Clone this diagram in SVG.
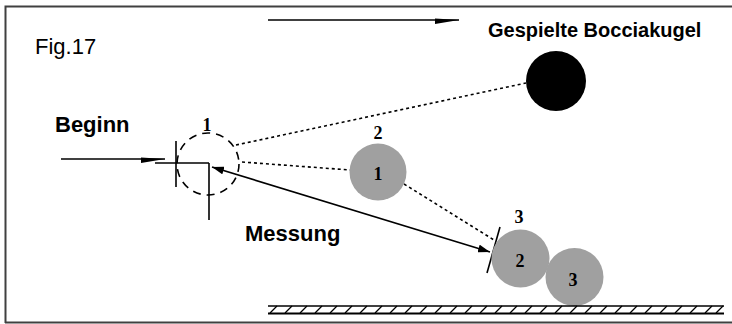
<svg xmlns="http://www.w3.org/2000/svg" width="732" height="324" viewBox="0 0 732 324">
<defs>
<style>
.lbl{font-family:"Liberation Sans",Arial,sans-serif;font-weight:bold;fill:#000}
.num{font-family:"Liberation Serif","Times New Roman",serif;font-weight:bold;font-size:18px;fill:#000;text-anchor:middle}
.ln{stroke:#000;stroke-width:1.6;fill:none}
.dot{stroke:#000;stroke-width:1.6;stroke-dasharray:3 3;fill:none}
.ball{fill:#a0a0a0}
</style>
<marker id="ah" viewBox="0 0 12 8" refX="12" refY="4" markerWidth="12" markerHeight="8" markerUnits="userSpaceOnUse" orient="auto-start-reverse">
<path d="M0,0 L12,4 L0,8 Z" fill="#000"/>
</marker>
<marker id="ah2" viewBox="0 0 24 8" refX="24" refY="4" markerWidth="24" markerHeight="8" markerUnits="userSpaceOnUse" orient="auto">
<path d="M0,2.5 L24,4 L0,8 Z" fill="#000"/>
</marker>
</defs>
<rect width="732" height="324" fill="#fff"/>
<g id="frame">
<path d="M5.5,323 V6.5 H732" stroke="#404040" stroke-width="2" fill="none"/>
<path d="M5,322.5 H732" stroke="#404040" stroke-width="2" fill="none"/>
</g>
<g id="connectors">
<line class="ln" x1="268" y1="20" x2="459" y2="20" marker-end="url(#ah2)"/>
<line class="ln" x1="61" y1="159" x2="165" y2="159" marker-end="url(#ah2)"/>
<line class="dot" x1="236" y1="145" x2="526" y2="83"/>
<line class="dot" x1="242" y1="162" x2="350" y2="170"/>
<line class="dot" x1="404" y1="184" x2="494" y2="240"/>
<line class="ln" x1="212" y1="167" x2="490" y2="252" marker-start="url(#ah)" marker-end="url(#ah)"/>
</g>
<g id="start">
<circle cx="208" cy="164" r="31" fill="none" stroke="#000" stroke-width="1.6" stroke-dasharray="8 6"/>
<line class="ln" x1="155" y1="163" x2="209" y2="163"/>
<line class="ln" x1="209" y1="163" x2="209" y2="220"/>
<line class="ln" x1="176" y1="141" x2="176" y2="187"/>
<text class="num" x="207" y="131">1</text>
</g>
<g id="played-ball">
<circle cx="556" cy="81" r="30" fill="#000"/>
<text class="lbl" x="488" y="37" font-size="20">Gespielte Bocciakugel</text>
</g>
<g id="ball1">
<circle class="ball" cx="378" cy="172" r="28.5"/>
<text class="num" x="378" y="139">2</text>
<text class="num" x="378" y="180">1</text>
</g>
<g id="ball2">
<line class="ln" x1="500" y1="227" x2="487" y2="273"/>
<circle class="ball" cx="520.5" cy="258.5" r="29"/>
<text class="num" x="519" y="223">3</text>
<text class="num" x="520" y="267">2</text>
</g>
<g id="ball3">
<circle class="ball" cx="574.5" cy="277" r="29"/>
<text class="num" x="573" y="286">3</text>
</g>
<g id="ground">
<line x1="268" y1="306" x2="724" y2="306" stroke="#000" stroke-width="1.5"/>
<line x1="268" y1="313.5" x2="724" y2="313.5" stroke="#000" stroke-width="2"/>
<path d="M270,313 l7,-7 M285,313 l7,-7 M300,313 l7,-7 M315,313 l7,-7 M330,313 l7,-7 M345,313 l7,-7 M360,313 l7,-7 M375,313 l7,-7 M390,313 l7,-7 M405,313 l7,-7 M420,313 l7,-7 M435,313 l7,-7 M450,313 l7,-7 M465,313 l7,-7 M480,313 l7,-7 M495,313 l7,-7 M510,313 l7,-7 M525,313 l7,-7 M540,313 l7,-7 M555,313 l7,-7 M570,313 l7,-7 M585,313 l7,-7 M600,313 l7,-7 M615,313 l7,-7 M630,313 l7,-7 M645,313 l7,-7 M660,313 l7,-7 M675,313 l7,-7 M690,313 l7,-7 M705,313 l7,-7 M716,313 l7,-7" stroke="#000" stroke-width="1.3" fill="none"/>
</g>
<g id="labels">
<text x="35" y="54" font-family="Liberation Sans,Arial,sans-serif" font-size="22" fill="#000">Fig.17</text>
<text class="lbl" x="55" y="132" font-size="22">Beginn</text>
<text class="lbl" x="245" y="241" font-size="22">Messung</text>
</g>
</svg>
